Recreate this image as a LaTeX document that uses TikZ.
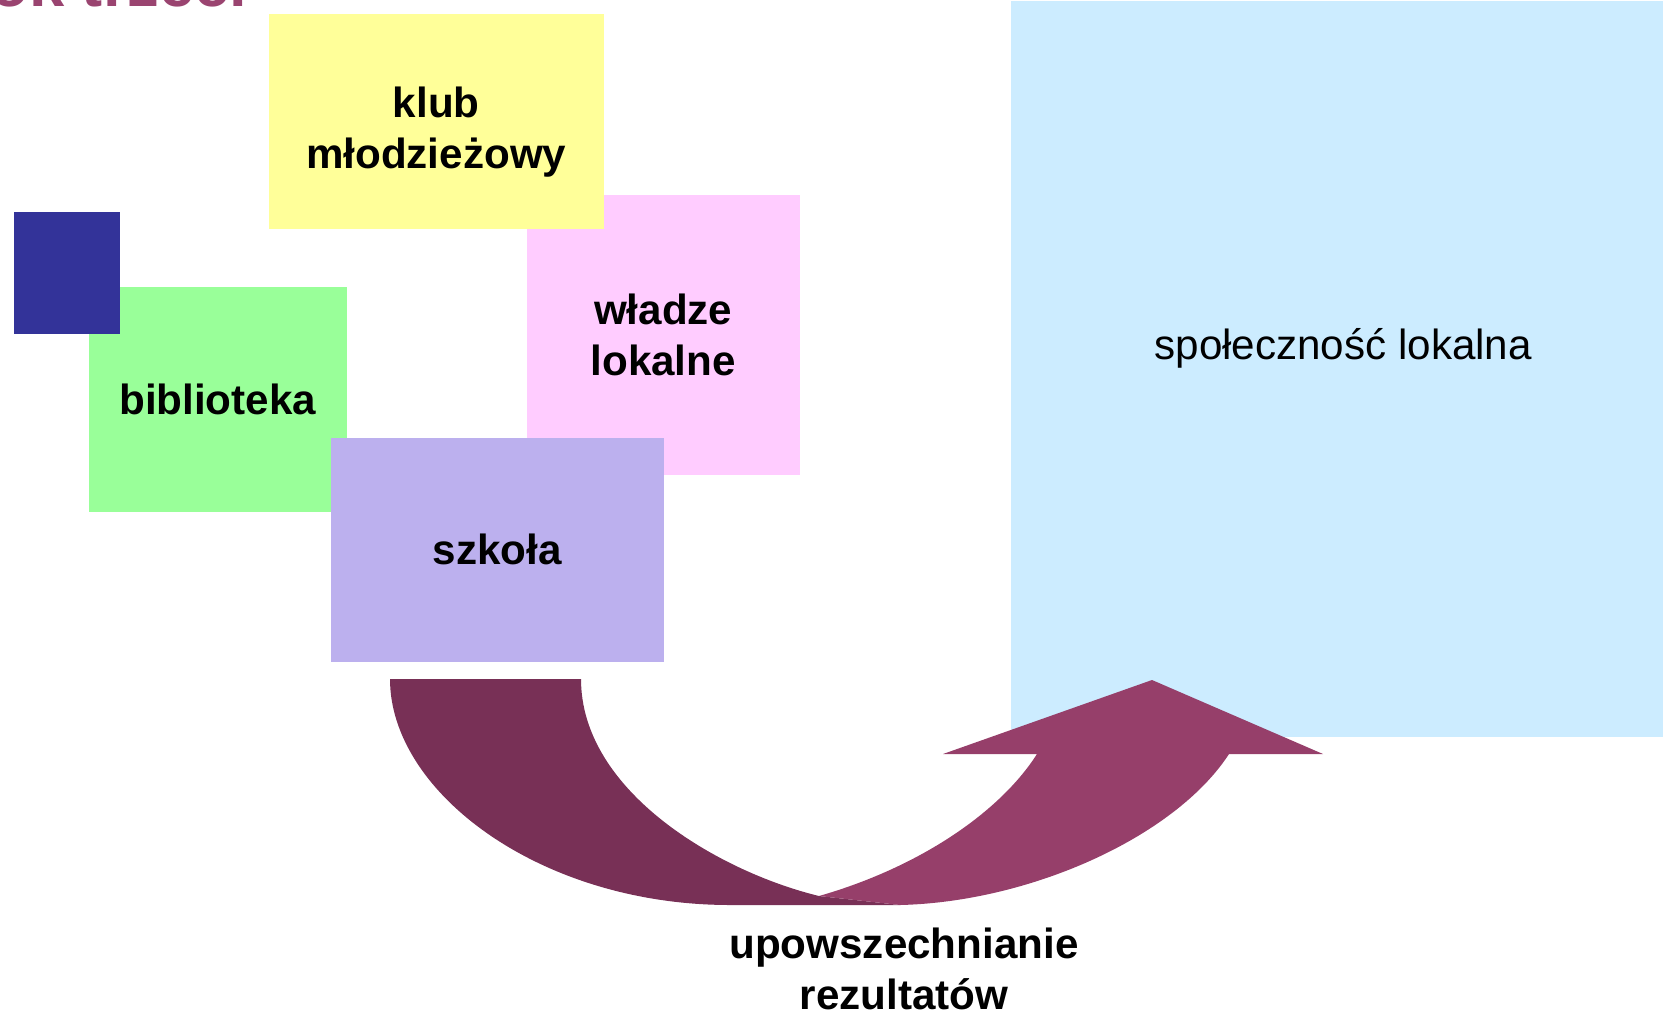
\documentclass[tikz,border=0pt]{standalone}
\usepackage{fontspec}
\setmainfont{Liberation Sans}
\usepackage{tikz}
\usetikzlibrary{positioning,calc}

\definecolor{klubyellow}{HTML}{FFFF99}
\definecolor{wladzepink}{HTML}{FFCCFF}
\definecolor{bibgreen}{HTML}{99FF99}
\definecolor{navysq}{HTML}{333399}
\definecolor{szkolalilac}{HTML}{BCB0EE}
\definecolor{spolblue}{HTML}{CCECFF}
\definecolor{arrowdark}{HTML}{783056}
\definecolor{arrowlight}{HTML}{963F6A}
\definecolor{titleplum}{HTML}{9A4470}

\begin{document}
\begin{tikzpicture}[
        block/.style={rectangle, anchor=north west, inner sep=0pt, align=center, font=\bfseries\fontsize{12}{14.5}\selectfont},
        label/.style={align=center, font=\bfseries\fontsize{12}{14.5}\selectfont},
        band/.style={draw=none}]

        \useasboundingbox (0,0) rectangle (16.63,10.12);
        \clip (0,0) rectangle (16.63,10.12);

        % title, only its lower edge shows
        \node [anchor=base east, text=titleplum, font=\bfseries\fontsize{18}{22}\selectfont, inner sep=0pt] (title) at (2.48,10.055) {Krok trzeci};

        \node [block, fill=spolblue, minimum width=6.53cm, minimum height=7.36cm] (spol) at (10.10,10.12) {};
        \node [font=\fontsize{12}{14.5}\selectfont] (spoltxt) at ($(spol.center)+(0.06,0.20)$) {społeczność lokalna};

        \node [block, fill=wladzepink, minimum width=2.73cm, minimum height=2.80cm] (wladze) at (5.26,8.18) {władze\\lokalne};
        \node [block, fill=klubyellow, minimum width=3.35cm, minimum height=2.15cm] (klub) at (2.68,9.99) {};
        \node [label] (klubtxt) at ($(klub.center)+(0,-0.11)$) {klub\\młodzieżowy};
        \node [block, fill=bibgreen, minimum width=2.58cm, minimum height=2.25cm] (bib) at (0.88,7.26) {biblioteka};
        \node [block, fill=navysq, minimum width=1.06cm, minimum height=1.22cm] (sq) at (0.13,8.01) {};
        \node [block, fill=szkolalilac, minimum width=3.33cm, minimum height=2.24cm] (szkola) at (3.30,5.75) {szkoła};

        % curved arrow
        \coordinate (outtop) at (3.90,3.33);
        \coordinate (intop) at (5.81,3.33);
        \coordinate (tip) at (8.19,1.16);
        \coordinate (botl) at (7.30,1.07);
        \coordinate (botr) at (9.00,1.07);
        \coordinate (shin) at (10.37,2.58);
        \coordinate (shout) at (12.29,2.58);
        \coordinate (barbl) at (9.43,2.58);
        \coordinate (barbr) at (13.23,2.58);
        \coordinate (apex) at (11.52,3.32);

        \fill [band, arrowdark] (outtop) -- (intop)
            .. controls (5.81,2.20) and (7.20,1.40) .. (tip)
            -- (botr) -- (botl)
            .. controls (5.40,1.07) and (3.90,2.20) .. (outtop) -- cycle;
        \fill [band, arrowlight] (tip) -- (botr)
            .. controls (10.30,1.10) and (11.75,1.75) .. (shout)
            -- (barbr) -- (apex) -- (barbl) -- (shin)
            .. controls (10.00,2.00) and (9.20,1.45) .. (tip) -- cycle;

        \node [label] (upow) at (9.04,0.43) {upowszechnianie\\rezultatów};
\end{tikzpicture}
\end{document}
